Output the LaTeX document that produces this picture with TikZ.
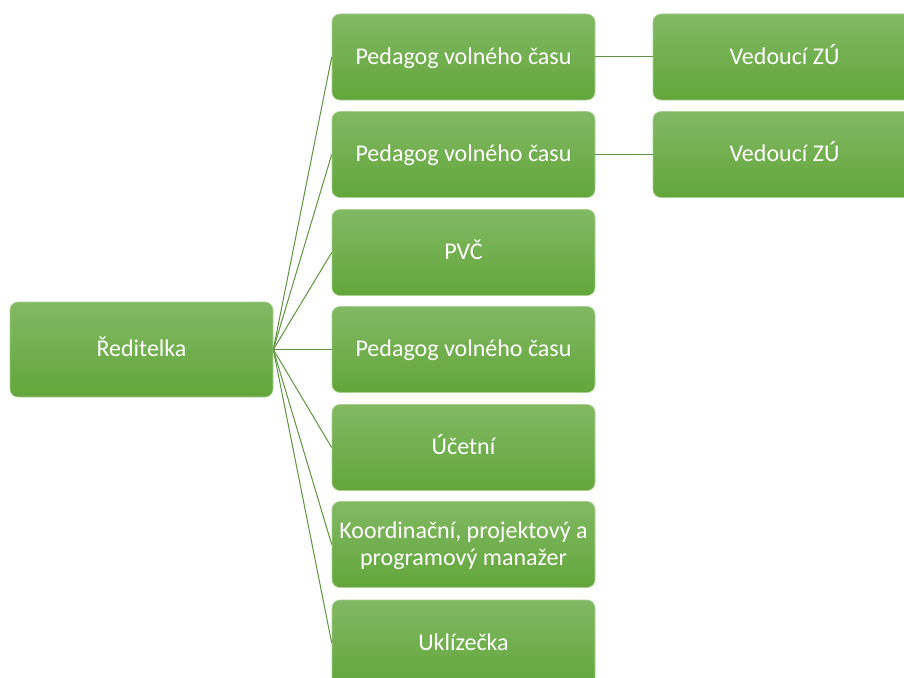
\documentclass[tikz,border=0pt]{standalone}
\usepackage{fontspec}
\setmainfont{Carlito}
\definecolor{gtop}{HTML}{82B964}
\definecolor{gbot}{HTML}{62A63A}
\definecolor{linec}{HTML}{5F9440}
\definecolor{edgec}{HTML}{A9D18E}
\tikzset{
  box/.style={rectangle, rounded corners=8pt, minimum width=263pt, minimum height=86pt,
    top color=gtop, bottom color=gbot, draw=edgec, line width=0.6pt,
    text=white, font=\fontsize{24}{27}\selectfont, inner sep=2pt,
    text height=19pt, text depth=5pt},
  conn/.style={draw=linec, line width=1pt}
}
\begin{document}
\begin{tikzpicture}[x=1pt,y=-1pt]
\useasboundingbox (0,0) rectangle (904,677);
\clip (0,0) rectangle (904,677);
\fill[white] (0,0) rectangle (904,677);
\node[box, minimum height=95pt] (root) at (141.5,349.5) {Ředitelka};
\node[box] (a) at (463.5,57) {Pedagog volného času};
\node[box] (b) at (463.5,154.5) {Pedagog volného času};
\node[box] (c) at (463.5,252.5) {PVČ};
\node[box] (d) at (463.5,349.5) {Pedagog volného času};
\node[box] (e) at (463.5,447.5) {Účetní};
\node[box, text depth=32pt] (f) at (463.5,544.5) {\begin{tabular}[t]{@{}c@{}}Koordinační, projektový a\\programový manažer\end{tabular}};
\node[box] (g) at (463.5,643) {Uklízečka};
\node[box] (a2) at (784.5,57) {Vedoucí ZÚ};
\node[box] (b2) at (784.5,154.5) {Vedoucí ZÚ};
\foreach \n in {a,b,c,d,e,f,g} {\draw[conn] (root.east) -- (\n.west);}
\draw[conn] (a.east) -- (a2.west);
\draw[conn] (b.east) -- (b2.west);
\end{tikzpicture}
\end{document}
